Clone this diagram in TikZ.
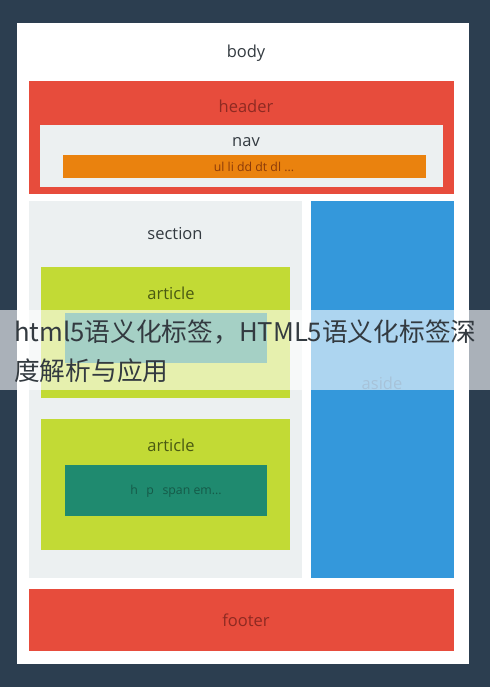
\documentclass[tikz,border=0pt]{standalone}
\usepackage{fontspec}
\setmainfont{Open Sans}
\newfontfamily\cjk{Noto Sans CJK SC}
\definecolor{navy}{HTML}{2C3E50}
\definecolor{redc}{HTML}{E74C3C}
\definecolor{lgray}{HTML}{ECF0F1}
\definecolor{orangec}{HTML}{EA820E}
\definecolor{bluec}{HTML}{3498DB}
\definecolor{greenc}{HTML}{C2DA35}
\definecolor{tealc}{HTML}{1F8A6F}
\definecolor{darkred}{HTML}{8E2A22}
\definecolor{darktxt}{HTML}{333A40}
\definecolor{olivetxt}{HTML}{4A5A12}
\definecolor{browntxt}{HTML}{8A3A0A}
\definecolor{tealtxt}{HTML}{155A48}
\definecolor{bluetxt}{HTML}{2468A0}
\tikzset{
  box/.style={draw=none, inner sep=0pt},
  lbl/.style={font=\fontsize{16.5}{19}\selectfont, inner sep=0pt},
  small/.style={font=\fontsize{12.3}{14}\selectfont, inner sep=0pt},
  overlaytxt/.style={font=\cjk\fontsize{25.7}{30}\selectfont, text=darktxt, inner sep=0pt, anchor=west}
}
\begin{document}
\begin{tikzpicture}[x=1pt,y=-1pt]
\useasboundingbox (0,0) rectangle (490,687);
\fill[navy] (0,0) rectangle (490,687);
% body
\fill[white] (17,23) rectangle (469,664);
\node[lbl, text=darktxt] (body) at (246,53) {body};
% header
\fill[redc] (29,81) rectangle (454,194);
\node[lbl, text=darkred] (header) at (246,106) {header};
\fill[lgray] (40,125) rectangle (443,187);
\node[lbl, text=darktxt] (nav) at (246,142) {nav};
\fill[orangec] (63,155) rectangle (426,178);
\node[small, text=browntxt] (ul) at (254,166.5) {ul li dd dt dl ...};
% section
\fill[lgray] (29,201) rectangle (302,578);
\node[lbl, text=darktxt] (section) at (175,234) {section};
% article 1
\fill[greenc] (41,267) rectangle (290,398);
\node[lbl, text=olivetxt] (article1) at (171,293) {article};
\fill[tealc] (65,313) rectangle (267,363);
% article 2
\fill[greenc] (41,419) rectangle (290,550);
\node[lbl, text=olivetxt] (article2) at (171,445) {article};
\fill[tealc] (65,465) rectangle (267,516);
\node[small, text=tealtxt] (inl) at (176,491) {h\hspace{0.7em}p\hspace{0.7em}span em...};
% aside
\fill[bluec] (311,201) rectangle (454,578);
\node[lbl, text=bluetxt] (aside) at (382,383) {aside};
% footer
\fill[redc] (29,589) rectangle (454,651);
\node[lbl, text=darkred] (footer) at (246,620) {footer};
% overlay
\fill[white, opacity=0.6] (0,310) rectangle (490,390);
\node[overlaytxt] (t1) at (14,332) {html5语义化标签，HTML5语义化标签深};
\node[overlaytxt] (t2) at (14,371) {度解析与应用};
\end{tikzpicture}
\end{document}
